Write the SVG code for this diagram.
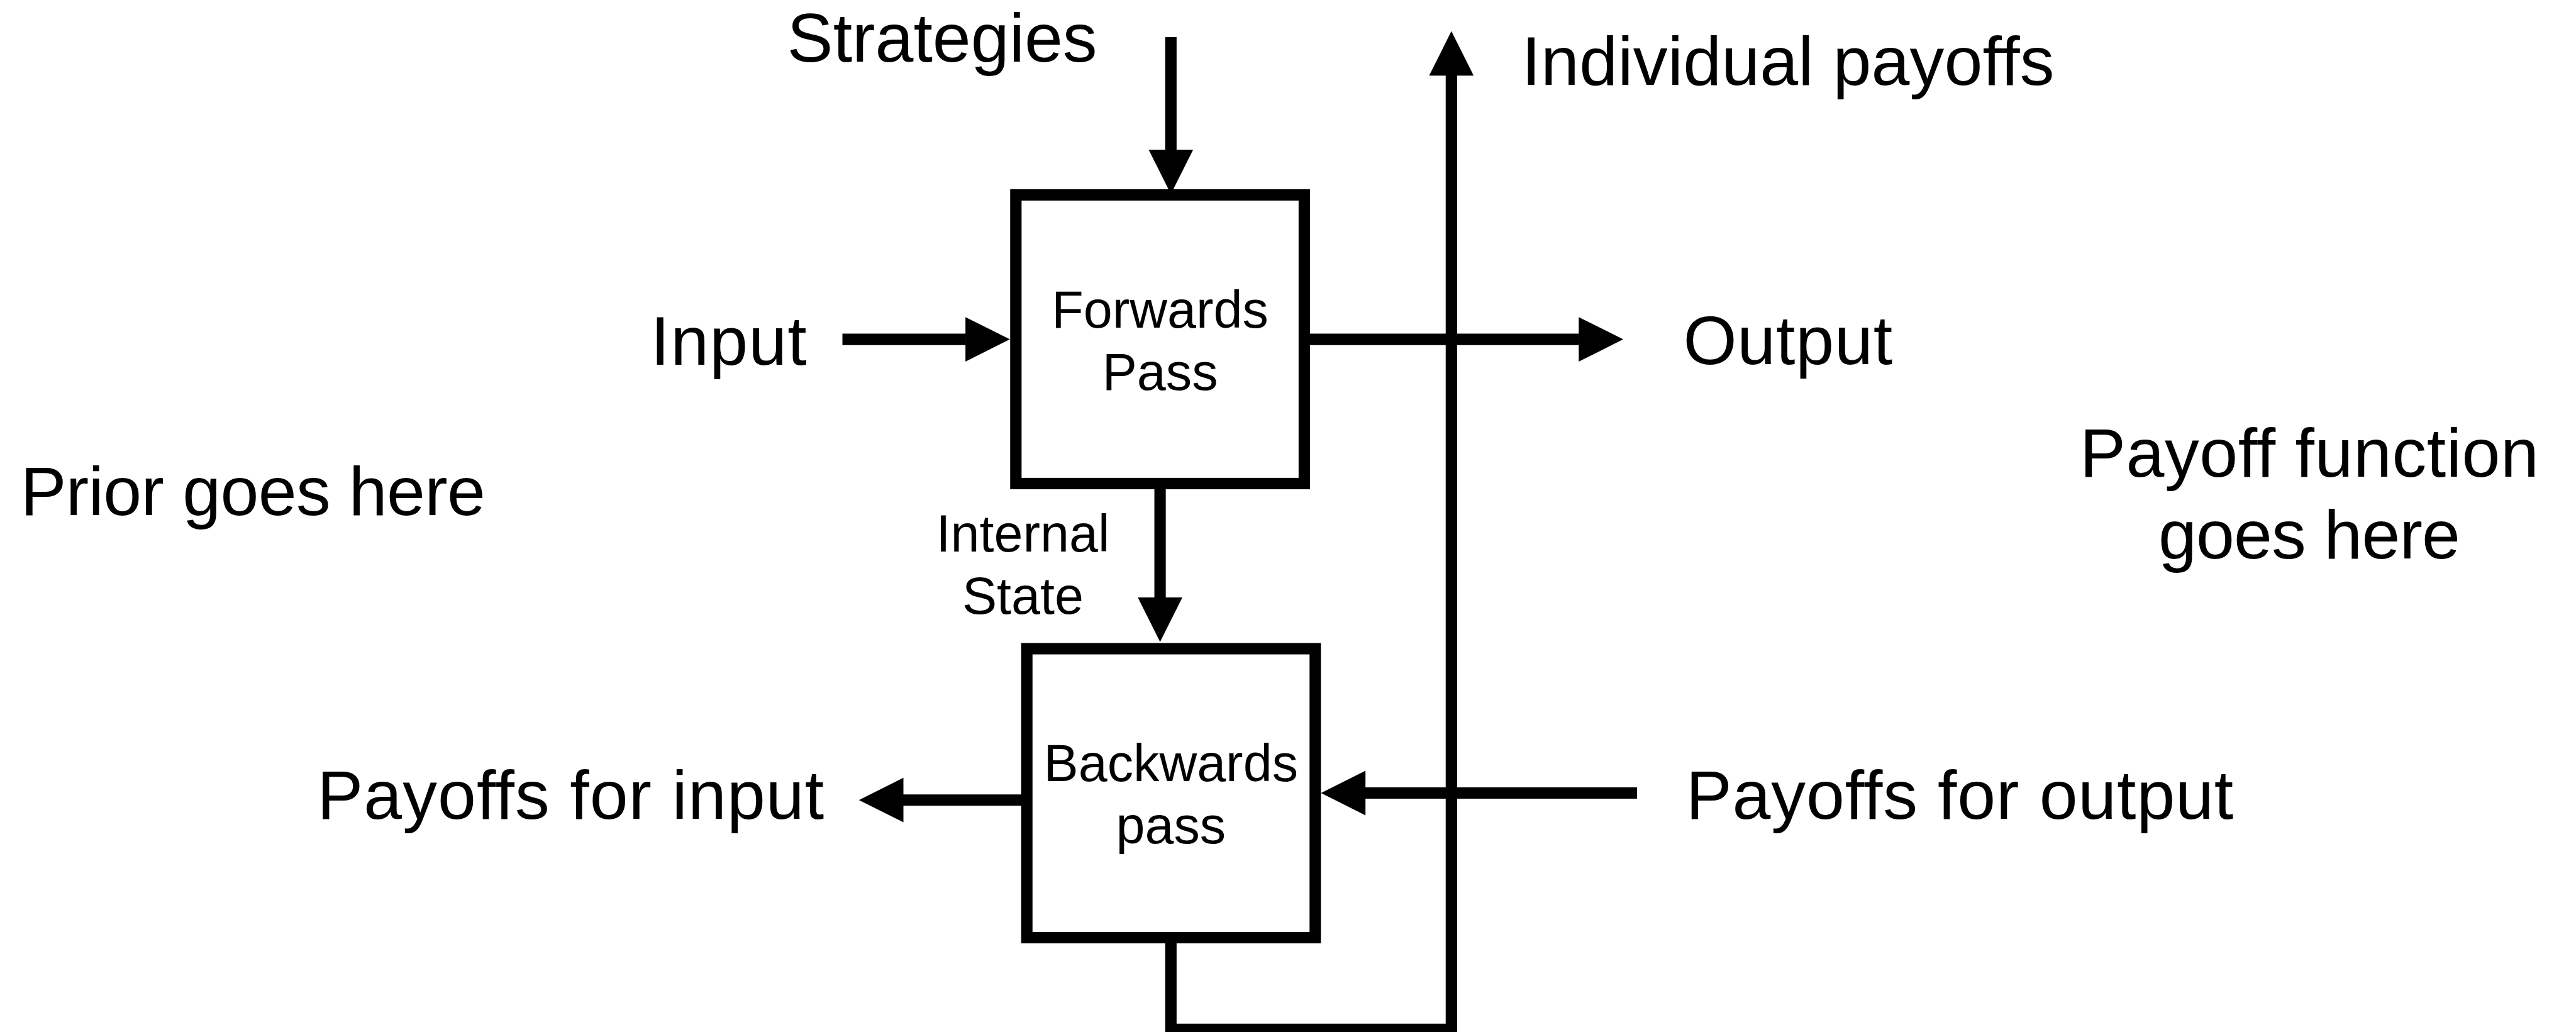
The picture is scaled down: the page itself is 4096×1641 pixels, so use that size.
<svg xmlns="http://www.w3.org/2000/svg" width="4096" height="1641" viewBox="0 0 4096 1641">
  <style>
    .box { fill: #ffffff; stroke: #000000; stroke-width: 18.1; }
    .wire { fill: none; stroke: #000000; stroke-width: 18.1; stroke-linecap: butt; stroke-linejoin: miter; }
    .big { font-family: "Liberation Sans", Arial, Helvetica, sans-serif; font-size: 109.5px; fill: #000000; }
    .small { font-family: "Liberation Sans", Arial, Helvetica, sans-serif; font-size: 82.7px; fill: #000000; text-anchor: middle; }
  </style>
  <defs>
    <!-- solid triangular head; the line ends at the head's base -->
    <marker id="head" markerUnits="userSpaceOnUse" viewBox="0 -36 72 72" markerWidth="72" markerHeight="72" refX="0.5" refY="0" orient="auto" overflow="visible">
      <path d="M0,-35.4 L70.7,0 L0,35.4 Z" fill="#000000"/>
    </marker>
  </defs>

  <rect width="4096" height="1641" fill="#ffffff"/>

  <!-- connectors -->
  <g id="connectors">
    <!-- strategies into forwards pass -->
    <path class="wire" d="M1861.8,59 L1861.8,238.4" marker-end="url(#head)"/>
    <!-- input into forwards pass -->
    <path class="wire" d="M1339.5,539.6 L1535.6,539.6" marker-end="url(#head)"/>
    <!-- forwards pass to output -->
    <path class="wire" d="M2074,539.6 L2510.8,539.6" marker-end="url(#head)"/>
    <!-- internal state down to backwards pass -->
    <path class="wire" d="M1844.6,768.9 L1844.6,950.5" marker-end="url(#head)"/>
    <!-- backwards pass to payoffs for input -->
    <path class="wire" d="M1632.7,1272.2 L1436,1272.2" marker-end="url(#head)"/>
    <!-- payoffs for output into backwards pass -->
    <path class="wire" d="M2603,1261 L2170.7,1261" marker-end="url(#head)"/>
    <!-- loop from backwards pass up to individual payoffs -->
    <path class="wire" d="M1861.8,1491 L1861.8,1636.8 L2307.8,1636.8 L2307.8,119.8" marker-end="url(#head)"/>
  </g>

  <g id="forwards-pass">
    <rect class="box" x="1615.3" y="309.9" width="458.6" height="459"/>
    <text class="small" x="1844.6" y="520.6">Forwards</text>
    <text class="small" x="1844.6" y="619.7">Pass</text>
  </g>

  <g id="backwards-pass">
    <rect class="box" x="1632.7" y="1031.5" width="458.6" height="459.5"/>
    <text class="small" x="1861.8" y="1242.1">Backwards</text>
    <text class="small" x="1861.8" y="1341.2">pass</text>
  </g>

  <g id="internal-state">
    <text class="small" x="1626.5" y="876.6">Internal</text>
    <text class="small" x="1626.5" y="975.7">State</text>
  </g>

  <g id="strategies">
    <text class="big" x="1251.6" y="98.3" textLength="493" lengthAdjust="spacing">Strategies</text>
  </g>
  <g id="individual-payoffs">
    <text class="big" x="2419.5" y="134.5" textLength="847" lengthAdjust="spacing">Individual payoffs</text>
  </g>
  <g id="input">
    <text class="big" x="1034.6" y="580.1" textLength="248" lengthAdjust="spacing">Input</text>
  </g>
  <g id="output">
    <text class="big" x="2676.4" y="579.2" textLength="332.7" lengthAdjust="spacing">Output</text>
  </g>
  <g id="prior">
    <text class="big" x="32.4" y="818.9" textLength="739.6" lengthAdjust="spacing">Prior goes here</text>
  </g>
  <g id="payoff-function">
    <text class="big" x="3306.9" y="757.7" textLength="730" lengthAdjust="spacing">Payoff function</text>
    <text class="big" x="3431.9" y="887.8" textLength="480" lengthAdjust="spacing">goes here</text>
  </g>
  <g id="payoffs-for-input">
    <text class="big" x="504.2" y="1301.5" textLength="806" lengthAdjust="spacing">Payoffs for input</text>
  </g>
  <g id="payoffs-for-output">
    <text class="big" x="2680.7" y="1301.5" textLength="870.6" lengthAdjust="spacing">Payoffs for output</text>
  </g>
</svg>
